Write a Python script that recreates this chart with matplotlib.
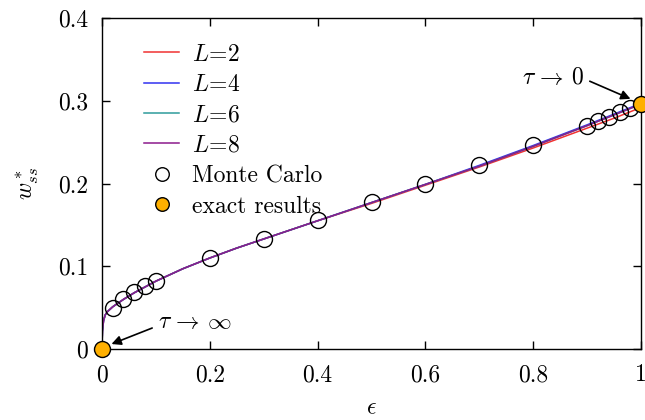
import matplotlib
matplotlib.use("Agg")
import matplotlib.pyplot as plt

plt.rcParams["font.family"] = "serif"
plt.rcParams["font.serif"] = ["cmr10"]
plt.rcParams["mathtext.fontset"] = "cm"
plt.rcParams["axes.formatter.use_mathtext"] = True

# curves for each L
eps_line = [0, 0.001, 0.003, 0.006, 0.01, 0.02, 0.04, 0.06, 0.08, 0.1, 0.15,
            0.2, 0.25, 0.3, 0.4, 0.5, 0.6, 0.7, 0.8, 0.9, 0.95, 1.0]
w_L8 = [0, 0.022, 0.034, 0.041, 0.045, 0.051, 0.060, 0.068, 0.075, 0.082, 0.097,
        0.110, 0.122, 0.133, 0.155, 0.177, 0.199, 0.221, 0.245, 0.270, 0.283, 0.296]
w_L6 = [0, 0.022, 0.034, 0.041, 0.045, 0.051, 0.060, 0.068, 0.075, 0.082, 0.097,
        0.110, 0.122, 0.133, 0.155, 0.177, 0.199, 0.221, 0.245, 0.270, 0.283, 0.296]
w_L4 = [0, 0.022, 0.034, 0.041, 0.045, 0.051, 0.060, 0.068, 0.075, 0.082, 0.097,
        0.110, 0.122, 0.133, 0.155, 0.177, 0.199, 0.222, 0.246, 0.271, 0.284, 0.297]
w_L2 = [0, 0.022, 0.034, 0.041, 0.045, 0.051, 0.060, 0.068, 0.075, 0.082, 0.097,
        0.110, 0.122, 0.133, 0.155, 0.176, 0.198, 0.220, 0.243, 0.267, 0.279, 0.292]

# Monte Carlo points
eps_mc = [0.02, 0.04, 0.06, 0.08, 0.1, 0.2, 0.3, 0.4, 0.5, 0.6, 0.7, 0.8,
          0.9, 0.92, 0.94, 0.96, 0.98]
w_mc = [0.0495, 0.060, 0.069, 0.076, 0.082, 0.110, 0.133, 0.156, 0.178, 0.199,
        0.222, 0.2465, 0.269, 0.2755, 0.280, 0.286, 0.291]

# exact results
eps_exact = [0, 1]
w_exact = [0, 0.296]

fig = plt.figure(figsize=(6.45, 4.2), dpi=100)
ax = fig.add_axes([0.158, 0.169, 0.836, 0.788])

ax.plot(eps_line, w_L2, color="#f03232", lw=1.1, label=r"$L\!=\!2$")
ax.plot(eps_line, w_L4, color="#3232f0", lw=1.1, label=r"$L\!=\!4$")
ax.plot(eps_line, w_L6, color="#2e9b9b", lw=1.1, label=r"$L\!=\!6$")
ax.plot(eps_line, w_L8, color="#8b1a8b", lw=1.1, label=r"$L\!=\!8$")
ax.plot(eps_mc, w_mc, "o", ms=11.5, mfc="none", mec="black", mew=1.0,
        label="Monte Carlo")
ax.plot(eps_exact, w_exact, "o", ms=11.5, mfc="#ffb000", mec="black", mew=1.0,
        label="exact results", clip_on=False, zorder=5)

ax.set_xlim(0, 1)
ax.set_ylim(0, 0.4)
ax.set_xticks([0, 0.2, 0.4, 0.6, 0.8, 1])
ax.set_xticklabels(["0", "0.2", "0.4", "0.6", "0.8", "1"])
ax.set_yticks([0, 0.1, 0.2, 0.3, 0.4])
ax.set_yticklabels(["0", "0.1", "0.2", "0.3", "0.4"])
ax.tick_params(direction="in", top=True, right=True, length=6, width=1,
               labelsize=17)
ax.tick_params(axis="x", pad=11)
ax.tick_params(axis="y", pad=10)
for s in ax.spines.values():
    s.set_linewidth(1.0)

ax.set_xlabel(r"$\epsilon$", fontsize=17, labelpad=8)
ax.set_ylabel(r"$w^*_{ss}$", fontsize=17, labelpad=12)

arrow = dict(arrowstyle="-|>", color="black", lw=1.2, mutation_scale=14)
ax.annotate("", xy=(0.013, 0.0048), xytext=(0.098, 0.0266), arrowprops=arrow)
ax.text(0.104, 0.033, r"$\tau\,\rightarrow\,\infty$", fontsize=17, va="center")
ax.annotate("", xy=(0.985, 0.301), xytext=(0.90, 0.325), arrowprops=arrow,
            annotation_clip=False)
ax.text(0.779, 0.3275, r"$\tau\,\rightarrow\,0$", fontsize=17, va="center")

ax.legend(loc="upper left", bbox_to_anchor=(0.057, 0.959), frameon=False,
          borderpad=0, fontsize=17, handlelength=1.45, labelspacing=0.35,
          handletextpad=0.55, markerscale=0.85)

fig.savefig("out.png", dpi=100)
